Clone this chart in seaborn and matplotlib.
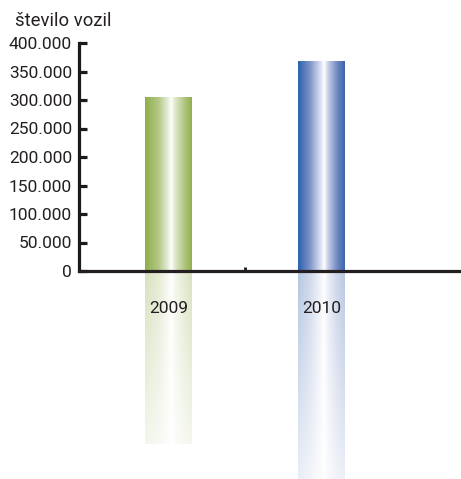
import numpy as np
import pandas as pd
import matplotlib
matplotlib.use("Agg")
import matplotlib.pyplot as plt
from matplotlib.colors import LinearSegmentedColormap
import matplotlib.transforms as mtransforms
import seaborn as sns

# ---- data ----
years = ["2009", "2010"]
vehicles = [304000, 367000]
y_ticks = [0, 50000, 100000, 150000, 200000, 250000, 300000, 350000, 400000]
y_tick_labels = ["0", "50.000", "100.000", "150.000", "200.000",
                 "250.000", "300.000", "350.000", "400.000"]
y_title = "število vozil"

# ---- styles ----
green_stops = [(0.0, "#8fae48"), (0.28, "#b2c785"), (0.48, "#e4ebd4"),
               (0.56, "#ffffff"), (0.64, "#e0e8cc"), (0.85, "#afc47f"), (1.0, "#92b04b")]
blue_stops = [(0.0, "#2a63ad"), (0.25, "#7d92c7"), (0.47, "#d6ddf0"),
              (0.56, "#ffffff"), (0.64, "#c8d0ea"), (0.85, "#6d84bf"), (1.0, "#3a66ad")]
stops = [green_stops, blue_stops]
text_color = "#231f20"

sns.set_theme(style="white")
plt.rcParams['font.family'] = ['Roboto', 'DejaVu Sans']

W, H = 461, 479
fig = plt.figure(figsize=(W / 100, H / 100), dpi=100)
ax_top_px, zero_px = 43, 271
ppu = (zero_px - ax_top_px) / 400000.0
ymin = -(H - zero_px) / ppu
ax = fig.add_axes([79 / W, 0, (460 - 79) / W, (H - ax_top_px) / H])

df = pd.DataFrame({"year": years, "vehicles": vehicles})
sns.barplot(data=df, x="year", y="vehicles", ax=ax, width=0.307,
            color="white", linewidth=0, saturation=1)

for patch, st in zip(ax.patches, stops):
    x0, w, h = patch.get_x(), patch.get_width(), patch.get_height()
    patch.set_facecolor("none")
    cmap = LinearSegmentedColormap.from_list("g", st)
    row = cmap(np.linspace(0, 1, 200))[:, :3]
    img = np.tile(row[None, :, :], (10, 1, 1))
    ax.imshow(img, extent=(x0, x0 + w, 0, h), aspect="auto", zorder=2,
              interpolation="bilinear")
    # reflection
    ny = 200
    alpha = np.linspace(0.36, 0.10, ny)[:, None, None]
    refl = row[None, :, :] * alpha + (1 - alpha)
    ax.imshow(refl, extent=(x0, x0 + w, -h, 0), aspect="auto", zorder=2,
              interpolation="bilinear", origin="upper")

ax.set_ylim(ymin, 400000)
ax.set_xlim(-0.585, 1.905)

ax.set_xlabel("")
ax.set_ylabel("")
for s in ["top", "right"]:
    ax.spines[s].set_visible(False)
ax.spines["left"].set_bounds(0, 400000)
ax.spines["left"].set_linewidth(2.3)
ax.spines["left"].set_color("#1a1a1a")
ax.spines["bottom"].set_position(("data", 0))
ax.spines["bottom"].set_linewidth(2.3)
ax.spines["bottom"].set_color("#231f20")
ax.spines["bottom"].set_zorder(3)

ax.set_yticks(y_ticks)
ax.set_yticklabels(y_tick_labels)
ax.tick_params(axis="y", direction="in", length=6, width=2.3, color="#1a1a1a",
               labelsize=12.5, labelcolor=text_color, pad=5, left=True)
ax.set_xticks([0, 1])
ax.set_xticklabels(["", ""])
ax.tick_params(axis="x", which="major", length=0)
ax.set_xticks([0.5], minor=True)
ax.tick_params(axis="x", which="minor", direction="in", length=3, width=2,
               color="#1a1a1a", bottom=True)
ax.grid(False)

# year labels below the axis line
offset = mtransforms.offset_copy(ax.transData, fig=fig, x=0, y=-37.5, units="dots")
for i, yr in enumerate(years):
    ax.text(i, 0, yr, transform=offset, ha="center", va="center",
            fontsize=12.5, color=text_color, zorder=6)

fig.text(15 / W, 1 - 21 / H, y_title, ha="left", va="center",
         fontsize=13.3, color=text_color)

fig.savefig("out.png", dpi=100)
